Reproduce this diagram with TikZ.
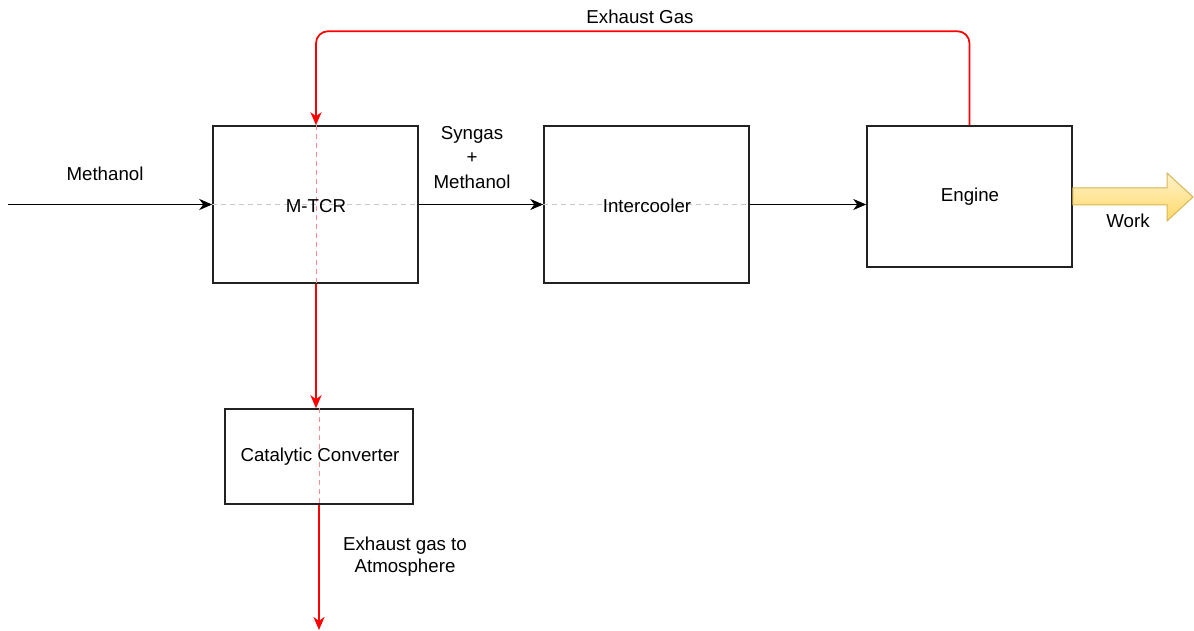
\documentclass[tikz,border=0pt]{standalone}
\usepackage{fontspec}
\setmainfont{Liberation Sans}
\usetikzlibrary{arrows.meta}
\definecolor{boxline}{HTML}{222222}
\definecolor{ghost}{HTML}{C8C8C8}
\definecolor{workfillA}{HTML}{FFF2CC}
\definecolor{workfillB}{HTML}{FFD966}
\definecolor{workline}{HTML}{D6B656}
\tikzset{
  blk/.style={draw=boxline, line width=1.5pt, fill=white, inner sep=0pt},
  lbl/.style={inner sep=0pt, font=\fontsize{18.7}{22}\selectfont, align=center},
  flow/.style={line width=1.6pt, draw=black, -{Stealth[length=13pt,width=11pt,inset=4pt]}},
  rflow/.style={line width=1.7pt, color=red, -{Stealth[length=13pt,width=11pt,inset=4pt]}},
  ghostline/.style={draw=ghost, line width=1pt, dash pattern=on 5pt off 4pt},
  ghostredline/.style={draw=red!45, line width=1pt, dash pattern=on 5pt off 4pt},
}
\begin{document}
\begin{tikzpicture}[x=1pt,y=-1pt]
\useasboundingbox (0,0) rectangle (1194,631);
\node[blk, minimum width=205pt, minimum height=157pt] (mtcr) at (315.5,204.5) {};
\node[blk, minimum width=205pt, minimum height=157pt] (ic) at (646.5,204.5) {};
\node[blk, minimum width=205pt, minimum height=141pt] (eng) at (969.5,196.5) {};
\node[blk, minimum width=188pt, minimum height=95pt] (cat) at (319,456.5) {};

\coordinate (mtop) at ([xshift=0.5pt]mtcr.north);
\coordinate (mbot) at ([xshift=0.5pt]mtcr.south);
\coordinate (cattop) at (mbot |- cat.north);

% ghost lines inside boxes
\draw[ghostline] (mtcr.west) -- (mtcr.east);
\draw[ghostline] (ic.west) -- (ic.east);
\draw[ghostredline] (mtop) -- (mbot);
\draw[ghostredline] (cat.north) -- (cat.south);

% box texts
\node[lbl] (t1) at (316,206) {M-TCR};
\node[lbl] (t2) at (647,206) {Intercooler};
\node[lbl] (t3) at (970,197) {Engine};
\node[lbl] (t4) at (320,457) {Catalytic Converter};

% black flow
\coordinate (in) at (8,204.5);
\draw[flow] (in) -- (mtcr.west);
\draw[flow] (mtcr.east) -- (ic.west);
\draw[flow] (ic.east) -- (ic.east -| eng.west);

% red flow
\draw[rflow, rounded corners=12pt] (eng.north) -- ++(0,-94) -| (mtop);
\draw[rflow] (mbot) -- (cattop);
\coordinate (out) at (319,630);
\draw[rflow] (cat.south) -- (out);

% work arrow
\path[top color=workfillA, bottom color=workfillB, draw=workline, line width=1pt]
  (eng.east |- 0,188) -- (1167,188) -- (1167,173) -- (1193,197) -- (1167,221) -- (1167,205) -- (eng.east |- 0,205) -- cycle;

% labels
\node[lbl] (l1) at (640,17) {Exhaust Gas};
\node[lbl] (l2) at (105,174) {Methanol};
\node[lbl, font=\fontsize{18.7}{24.5}\selectfont] (l3) at (472,157.5) {Syngas\\+\\Methanol};
\node[lbl] (l4) at (1128,221) {Work};
\node[lbl] (l5) at (405,557) {Exhaust gas to\\Atmosphere};
\end{tikzpicture}
\end{document}
